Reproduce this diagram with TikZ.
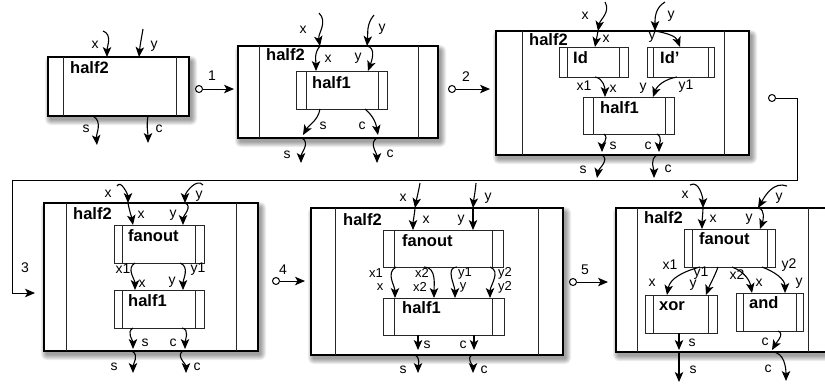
\documentclass[tikz,border=0pt]{standalone}
\usepackage{fontspec}
\setmainfont{Liberation Sans}
\usetikzlibrary{arrows.meta}
\tikzset{
  outerbox/.style={draw=black, line width=1.4pt, fill=white},
  innerbox/.style={draw=black!85, line width=1pt, fill=white},
  divider/.style={draw=black!85, line width=1pt},
  shadowlayer/.style={fill=black, opacity=0.07},
  wire/.style={line width=1.1pt, -{Stealth[length=10pt,width=8.5pt,inset=2.5pt]}},
  lbl/.style={font=\fontsize{14}{14}\selectfont, inner sep=0pt},
  slbl/.style={font=\fontsize{13}{13}\selectfont, inner sep=0pt},
  bname/.style={font=\bfseries\fontsize{16.5}{16.5}\selectfont, inner sep=0pt, anchor=west},
  stepdot/.style={circle, draw, fill=white, line width=1pt, minimum size=7pt, inner sep=0pt},
  steparrow/.style={line width=1pt, -{Stealth[length=10pt,width=8.5pt,inset=2.5pt]}},
}
% blurred shadow under an outer box: #1 x1, #2 y1, #3 x2, #4 y2
\newcommand{\bshadow}[4]{%
  \foreach \s in {1,...,6}{%
    \fill[shadowlayer, rounded corners=\s pt] (#1+3-\s,#2+5-\s) rectangle (#3+2+\s,#4+3+\s);}}
% #1 style, #2 name, #3 x1, #4 y1, #5 x2, #6 y2, #7 divider1, #8 divider2
\newcommand{\blk}[8]{%
  \pgfmathsetmacro\bw{#5-#3}\pgfmathsetmacro\bh{#6-#4}%
  \node[#1, anchor=north west, minimum width=\bw pt, minimum height=\bh pt,
        inner sep=0pt, outer sep=0pt] (#2) at (#3,#4) {};
  \draw[divider] (#7,#4) -- (#7,#6);
  \draw[divider] (#8,#4) -- (#8,#6);}
% #1 name, #2 start, #3 end, #4 out, #5 in
\newcommand{\wire}[5]{%
  \coordinate (#1a) at (#2); \coordinate (#1b) at (#3);
  \draw[wire] (#1a) to[out=#4,in=#5] (#1b);}
\begin{document}
\begin{tikzpicture}[x=1pt,y=-1pt]
\clip (0,0) rectangle (825,386);
\fill[white] (0,0) rectangle (825,386);

% ---------------- Panel 1
\bshadow{48}{57}{189}{116}
\blk{outerbox}{pA}{48}{57}{189}{116}{63}{176}
\node[bname] (pAn) at (70,68) {half2};
\wire{pAx}{103,31}{107,57}{-20}{90}
\wire{pAy}{143,29}{139,57}{-100}{85}
\wire{pAs}{93,116}{97,145}{-30}{95}
\wire{pAc}{148,116}{148,143}{-100}{90}
\node[lbl] (lA1) at (95,45) {x};
\node[lbl] (lA2) at (154,46) {y};
\node[lbl] (lA3) at (86,129) {s};
\node[lbl] (lA4) at (159,129) {c};
\node[stepdot] (s1) at (199,89) {};
\coordinate (s1t) at (234,89);
\draw[steparrow] (s1) -- (s1t);
\node[lbl] (s1l) at (212,76) {1};

% ---------------- Panel 2
\bshadow{238}{46}{438}{138}
\blk{outerbox}{pB}{238}{46}{438}{138}{259}{418}
\node[bname] (pBn) at (266,55) {half2};
\blk{innerbox}{pBh}{296}{71}{387}{109}{306}{378}
\node[bname] (pBhn) at (312,83) {half1};
\wire{pBx}{319,13}{320,46}{-45}{100}
\wire{pBxi}{320,46}{316,71}{-130}{90}
\wire{pBy}{374,15}{367,46}{-130}{85}
\wire{pByi}{367,46}{368,71}{-10}{70}
\wire{pBsi}{320,109}{303,135}{-100}{60}
\wire{pBci}{365,109}{378,135}{-40}{100}
\wire{pBs}{302,138}{301,163}{-30}{90}
\wire{pBc}{377,138}{377,163}{-150}{90}
\node[lbl] (lB1) at (303,30) {x};
\node[lbl] (lB2) at (382,29) {y};
\node[lbl] (lB3) at (328,59) {x};
\node[lbl] (lB4) at (358,58) {y};
\node[lbl] (lB5) at (323,126) {s};
\node[lbl] (lB6) at (362,126) {c};
\node[lbl] (lB7) at (287,155) {s};
\node[lbl] (lB8) at (390,154) {c};
\node[stepdot] (s2) at (452,89) {};
\coordinate (s2t) at (490,89);
\draw[steparrow] (s2) -- (s2t);
\node[lbl] (s2l) at (466,77) {2};

% ---------------- Panel 3
\bshadow{496}{31}{749}{155}
\blk{outerbox}{pC}{496}{31}{749}{155}{522}{724}
\node[bname] (pCn) at (529,40) {half2};
\blk{innerbox}{pCa}{559}{47}{628}{77}{567}{619}
\node[bname] (pCan) at (573,58) {Id};
\blk{innerbox}{pCb}{647}{47}{714}{77}{653}{708}
\node[bname] (pCbn) at (660,58) {Id'};
\blk{innerbox}{pCh}{583}{97}{674}{134}{593}{665}
\node[bname] (pChn) at (600,108) {half1};
\wire{pCx}{605,2}{598,31}{-60}{80}
\wire{pCy}{665,2}{655,31}{-150}{90}
\wire{pCxi}{598,31}{595,47}{-100}{80}
\wire{pCyi}{655,31}{680,47}{-10}{110}
\wire{pCx1}{595,77}{605,97}{-10}{90}
\wire{pCy1}{677,77}{653,97}{-170}{70}
\wire{pCsi}{604,134}{602,152}{-40}{90}
\wire{pCci}{657,134}{659,152}{-30}{90}
\wire{pCs}{602,155}{597,178}{-30}{80}
\wire{pCc}{657,155}{654,178}{-150}{90}
\node[lbl] (lC1) at (585,16) {x};
\node[lbl] (lC2) at (671,16) {y};
\node[lbl] (lC3) at (606,39) {x};
\node[lbl] (lC4) at (652,37) {y};
\node[lbl] (lC5) at (584,86) {x1};
\node[lbl] (lC6) at (613,89) {x};
\node[lbl] (lC7) at (643,88) {y};
\node[lbl] (lC8) at (686,86) {y1};
\node[lbl] (lC9) at (613,146) {s};
\node[lbl] (lC10) at (648,146) {c};
\node[lbl] (lC11) at (583,170) {s};
\node[lbl] (lC12) at (668,169) {c};
\node[stepdot] (s3) at (772,98) {};
\coordinate (s3t) at (35,293);
\draw[steparrow] (s3) -- (797,98) |- (12,180) |- (s3t);
\node[lbl] (s3l) at (25,268) {3};

% ---------------- Panel 4
\bshadow{44}{203}{258}{351}
\blk{outerbox}{pD}{44}{203}{258}{351}{66}{236}
\node[bname] (pDn) at (73,214) {half2};
\blk{innerbox}{pDf}{114}{225}{204}{263}{122}{195}
\node[bname] (pDfn) at (128,236) {fanout};
\blk{innerbox}{pDh}{114}{290}{204}{328}{122}{195}
\node[bname] (pDhn) at (128,301) {half1};
\wire{pDx}{117,186}{128,203}{60}{90}
\wire{pDy}{203,185}{185,203}{130}{90}
\wire{pDxi}{128,203}{133,225}{-80}{100}
\wire{pDyi}{185,203}{183,225}{-20}{90}
\wire{pDx1}{135,263}{135,290}{-150}{90}
\wire{pDy1}{180,263}{183,290}{-20}{90}
\wire{pDsi}{133,328}{133,349}{-150}{90}
\wire{pDci}{182,328}{185,349}{-10}{90}
\wire{pDs}{132,351}{133,373}{-30}{90}
\wire{pDc}{183,351}{186,373}{-150}{90}
\node[lbl] (lD1) at (108,194) {x};
\node[lbl] (lD2) at (199,196) {y};
\node[lbl] (lD3) at (141,215) {x};
\node[lbl] (lD4) at (173,215) {y};
\node[lbl] (lD5) at (123,269) {x1};
\node[lbl] (lD6) at (142,284) {x};
\node[lbl] (lD7) at (172,282) {y};
\node[lbl] (lD8) at (198,269) {y1};
\node[lbl] (lD9) at (145,343) {s};
\node[lbl] (lD10) at (173,343) {c};
\node[lbl] (lD11) at (114,367) {s};
\node[lbl] (lD12) at (197,367) {c};
\node[stepdot] (s4) at (276,281) {};
\coordinate (s4t) at (305,281);
\draw[steparrow] (s4) -- (s4t);
\node[lbl] (s4l) at (283,270) {4};

% ---------------- Panel 5
\bshadow{311}{208}{563}{355}
\blk{outerbox}{pE}{311}{208}{563}{355}{335}{538}
\node[bname] (pEn) at (343,220) {half2};
\blk{innerbox}{pEf}{383}{230}{503}{267}{394}{492}
\node[bname] (pEfn) at (402,241) {fanout};
\blk{innerbox}{pEh}{383}{298}{504}{335}{394}{492}
\node[bname] (pEhn) at (402,308) {half1};
\wire{pEx}{420,183}{415,208}{-100}{80}
\wire{pEy}{476,183}{473,208}{-95}{85}
\wire{pExi}{415,208}{413,230}{-95}{90}
\wire{pEyi}{473,208}{473,230}{-90}{90}
\wire{pEx1}{396,267}{395,298}{-150}{90}
\wire{pEx2}{424,267}{434,298}{0}{90}
\wire{pEy1}{457,267}{455,298}{180}{90}
\wire{pEy2}{490,267}{490,298}{-20}{90}
\wire{pEsi}{418,335}{418,350}{-90}{90}
\wire{pEci}{474,335}{474,350}{-90}{90}
\wire{pEs}{415,355}{418,373}{-30}{90}
\wire{pEc}{472,355}{473,373}{-150}{90}
\node[lbl] (lE1) at (403,198) {x};
\node[lbl] (lE2) at (488,198) {y};
\node[lbl] (lE3) at (426,220) {x};
\node[lbl] (lE4) at (461,220) {y};
\node[slbl] (lE5) at (376,273) {x1};
\node[slbl] (lE6) at (380,287) {x};
\node[slbl] (lE7) at (422,273) {x2};
\node[slbl] (lE8) at (420,287) {x2};
\node[slbl] (lE9) at (465,273) {y1};
\node[slbl] (lE10) at (463,287) {y};
\node[slbl] (lE11) at (505,273) {y2};
\node[slbl] (lE12) at (505,287) {y2};
\node[lbl] (lE13) at (427,345) {s};
\node[lbl] (lE14) at (463,345) {c};
\node[lbl] (lE15) at (403,370) {s};
\node[lbl] (lE16) at (484,370) {c};
\node[stepdot] (s5) at (573,282) {};
\coordinate (s5t) at (608,282);
\draw[steparrow] (s5) -- (s5t);
\node[lbl] (s5l) at (585,270) {5};

% ---------------- Panel 6
\bshadow{616}{208}{832}{352}
\blk{outerbox}{pF}{616}{208}{832}{352}{637}{808}
\node[bname] (pFn) at (644,218) {half2};
\blk{innerbox}{pFf}{684}{229}{775}{267}{692}{767}
\node[bname] (pFfn) at (699,239) {fanout};
\blk{innerbox}{pFx}{645}{295}{717}{333}{653}{708}
\node[bname] (pFxn) at (659,306) {xor};
\blk{innerbox}{pFa}{736}{293}{803}{331}{743}{796}
\node[bname] (pFan) at (749,303) {and};
\wire{pFx}{690,185}{703,208}{30}{90}
\wire{pFy}{787,186}{758,208}{160}{60}
\wire{pFxi}{703,208}{702,229}{-92}{90}
\wire{pFyi}{758,208}{760,229}{-10}{70}
\wire{pFx1}{700,267}{667,295}{-165}{80}
\wire{pFy1}{718,267}{706,295}{-110}{70}
\wire{pFx2}{732,267}{752,293}{-20}{100}
\wire{pFy2}{762,267}{785,293}{-20}{90}
\wire{pFsi}{679,333}{679,350}{-90}{90}
\wire{pFci}{778,331}{772,350}{-20}{60}
\wire{pFs}{679,352}{679,382}{-90}{90}
\wire{pFc}{772,352}{786,381}{0}{90}
\node[lbl] (lF1) at (685,195) {x};
\node[lbl] (lF2) at (779,198) {y};
\node[lbl] (lF3) at (713,219) {x};
\node[lbl] (lF4) at (749,219) {y};
\node[lbl] (lF5) at (670,265) {x1};
\node[lbl] (lF6) at (652,283) {x};
\node[lbl] (lF7) at (701,273) {y1};
\node[lbl] (lF8) at (693,285) {y};
\node[lbl] (lF9) at (737,275) {x2};
\node[lbl] (lF10) at (759,283) {x};
\node[lbl] (lF11) at (789,265) {y2};
\node[lbl] (lF12) at (799,283) {y};
\node[lbl] (lF13) at (692,343) {s};
\node[lbl] (lF14) at (765,342) {c};
\node[lbl] (lF15) at (693,370) {s};
\node[lbl] (lF16) at (768,369) {c};
\end{tikzpicture}
\end{document}
